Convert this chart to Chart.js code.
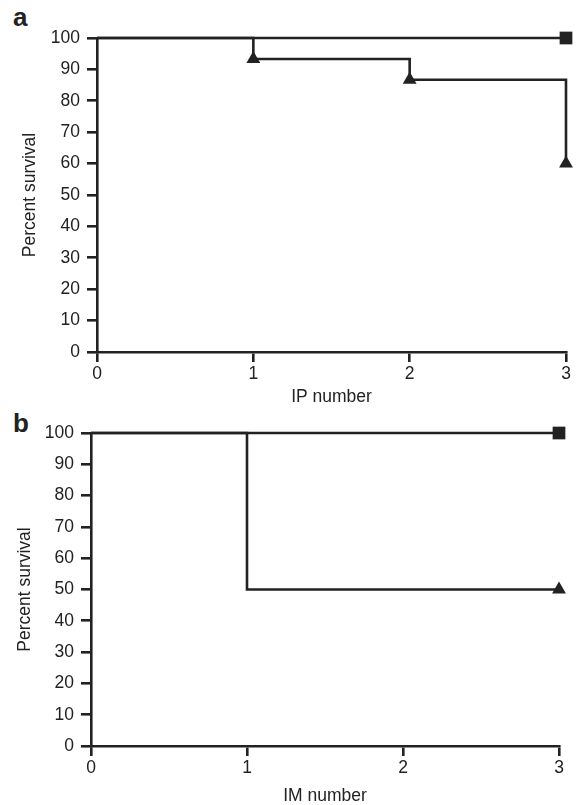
<!DOCTYPE html>
<html>
<head>
<meta charset="utf-8">
<script src="https://cdn.jsdelivr.net/npm/chart.js@4.4.0/dist/chart.umd.min.js"></script>
<style>
  body { margin: 0; background: #fff; width: 576px; height: 805px; overflow: hidden; position: relative; }
  canvas { position: absolute; left: 0; }
  .tag { position: absolute; left: 13px; font: bold 26px "Liberation Sans", Arial, sans-serif; line-height: 26px; color: #222; }
</style>
</head>
<body>
<div class="tag" style="top:4px">a</div>
<div class="tag" style="top:410px">b</div>
<canvas id="chartA" width="576" height="410" style="top:0"></canvas>
<canvas id="chartB" width="576" height="400" style="top:405px"></canvas>
<script>
// panel a: survival after each IP dose
const ipDoses = [0, 1, 2, 3];
const ipTriangle = [100, 93.3, 86.7, 60];
const ipSquareDoses = [0, 3];
const ipSquare = [100, 100];

// panel b: survival after each IM dose
const imDoses = [0, 1, 3];
const imTriangle = [100, 50, 50];
const imSquareDoses = [0, 3];
const imSquare = [100, 100];

const xTicks = [0, 1, 2, 3];
const yTicks = [0, 10, 20, 30, 40, 50, 60, 70, 80, 90, 100];

const INK = '#222';
const FONT = { family: '"Liberation Sans", Arial, sans-serif', size: 17.5, lineHeight: 1 };

function pts(xs, ys) { return xs.map((x, i) => ({ x: x, y: ys[i] })); }

function makeChart(id, cfg) {
    const ds = (data, style, radius) => ({
        data: data, stepped: 'before', clip: false,
        borderColor: INK, backgroundColor: INK, borderWidth: 2.6,
        pointStyle: style, pointRadius: radius, pointHoverRadius: radius,
        pointBorderWidth: 0
    });
    return new Chart(document.getElementById(id), {
        type: 'line',
        data: {
            datasets: [
                ds(cfg.square, 'rect', c => c.dataIndex === cfg.square.length - 1 ? 9 : 0),
                ds(cfg.triangle, 'triangle', c => cfg.triMarks.includes(c.dataIndex) ? 8 : 0)
            ]
        },
        options: {
            responsive: false, animation: false,
            layout: { padding: { left: 0, top: cfg.top, right: cfg.right, bottom: 0 } },
            plugins: { legend: { display: false }, tooltip: { enabled: false } },
            scales: {
                x: {
                    type: 'linear', min: 0, max: 3,
                    afterBuildTicks: s => { s.ticks = xTicks.map(v => ({ value: v })); },
                    afterFit: s => { s.height = cfg.xh; },
                    grid: { drawOnChartArea: false, drawTicks: true, tickLength: 10, color: INK, lineWidth: 2.6 },
                    border: { display: true, color: INK, width: 2.6 },
                    ticks: { color: INK, font: FONT, padding: 3 },
                    title: { display: true, text: cfg.xTitle, color: INK, font: FONT, padding: { top: 0, bottom: cfg.xtp } }
                },
                y: {
                    min: 0, max: 100,
                    afterBuildTicks: s => { s.ticks = yTicks.map(v => ({ value: v })); },
                    afterFit: s => { s.width = cfg.yw; },
                    grid: { drawOnChartArea: false, drawTicks: true, tickLength: 10, color: INK, lineWidth: 2.6 },
                    border: { display: true, color: INK, width: 2.6 },
                    ticks: { color: INK, font: FONT, padding: 7 },
                    title: { display: true, text: 'Percent survival', color: INK, font: FONT, padding: { top: cfg.ytp, bottom: 0 } }
                }
            }
        }
    });
}

makeChart('chartA', {
    square: pts(ipSquareDoses, ipSquare), triangle: pts(ipDoses, ipTriangle), triMarks: [1, 2, 3],
    top: 38, right: 10, xh: 58, yw: 97, xTitle: 'IP number', xtp: 4, ytp: 21
});
makeChart('chartB', {
    square: pts(imSquareDoses, imSquare), triangle: pts(imDoses, imTriangle), triMarks: [2],
    top: 28, right: 17, xh: 59, yw: 91, xTitle: 'IM number', xtp: 0, ytp: 16
});
</script>
</body>
</html>
